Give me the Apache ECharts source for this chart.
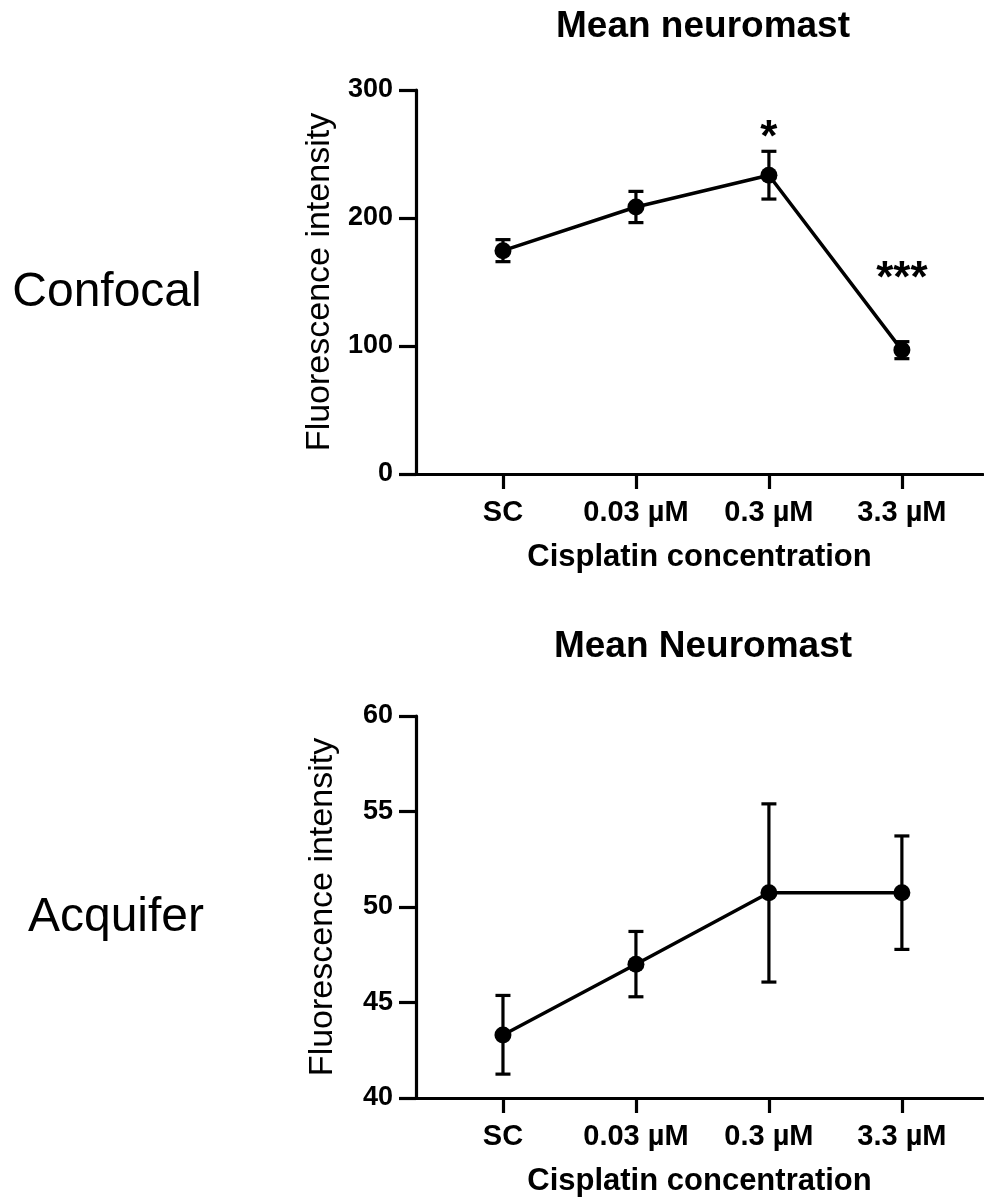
<!DOCTYPE html>
<html><head><meta charset="utf-8">
<script src="https://cdn.jsdelivr.net/npm/echarts@6/dist/echarts.min.js"></script>
<style>html,body{margin:0;padding:0;background:#fff}#c{width:984px;height:1198px}</style>
</head><body><div id="c"></div>
<script>
// ---- data ----
const categories = ['SC', '0.03 µM', '0.3 µM', '3.3 µM'];
const confocalMean = [174.5, 208.6, 233.4, 96.8];
const confocalLow  = [165.9, 196.4, 214.8, 90.1];
const confocalHigh = [183.1, 220.8, 252.1, 103.4];
const confocalSig  = ['', '', '*', '***'];
const confocalSigY = [null, null, 262, 152];
const acquiferMean = [43.3, 47.0, 50.75, 50.75];
const acquiferLow  = [41.25, 45.3, 46.07, 47.78];
const acquiferHigh = [45.37, 48.72, 55.4, 53.72];
const confocalYTicks = [0, 100, 200, 300];
const acquiferYTicks = [40, 45, 50, 55, 60];
const titles = ['Mean neuromast', 'Mean Neuromast'];
const rowLabels = ['Confocal', 'Acquifer'];
const xName = 'Cisplatin concentration';
const yName = 'Fluorescence intensity';

const F = '"Liberation Sans", Arial, Helvetica, sans-serif';
const chart = echarts.init(document.getElementById('c'), null, {renderer: 'canvas'});
const catIdx = categories.map((c, i) => i);

function errorBar(params, api) {
  const x = api.value(0);
  const lo = api.coord([x, api.value(1)]);
  const hi = api.coord([x, api.value(2)]);
  const hw = 7.5;
  const style = {stroke: '#000', lineWidth: 3.2, fill: null};
  return {type: 'group', children: [
    {type: 'line', shape: {x1: hi[0], y1: hi[1], x2: lo[0], y2: lo[1]}, style},
    {type: 'line', shape: {x1: hi[0] - hw, y1: hi[1], x2: hi[0] + hw, y2: hi[1]}, style},
    {type: 'line', shape: {x1: lo[0] - hw, y1: lo[1], x2: lo[0] + hw, y2: lo[1]}, style}
  ]};
}
function sigText(params, api) {
  const p = api.coord([api.value(0), api.value(1)]);
  return {type: 'text', x: p[0], y: p[1], style: {
    text: confocalSig[api.value(0)], fill: '#000', font: 'bold 44px ' + F,
    textAlign: 'center', textVerticalAlign: 'middle'}};
}

function xAxisCfg(g) {
  return {
    type: 'value', gridIndex: g, min: -0.654, max: 3.61,
    axisLine: {show: true, onZero: false, lineStyle: {color: '#000', width: 3.2}},
    axisTick: {show: true, customValues: catIdx, length: 15, lineStyle: {color: '#000', width: 3.2}},
    axisLabel: {customValues: catIdx, formatter: v => categories[Math.round(v)],
      color: '#000', fontSize: 29, fontWeight: 'bold', fontFamily: F, margin: 24},
    splitLine: {show: false},
    name: xName, nameLocation: 'middle', nameGap: 68,
    nameTextStyle: {color: '#000', fontSize: 31, fontWeight: 'bold', fontFamily: F}
  };
}
function yAxisCfg(g, ticks) {
  return {
    type: 'value', gridIndex: g, min: ticks[0], max: ticks[ticks.length - 1],
    interval: ticks[1] - ticks[0],
    axisLine: {show: true, onZero: false, lineStyle: {color: '#000', width: 3.2}},
    axisTick: {show: true, length: 17, lineStyle: {color: '#000', width: 3.2}},
    axisLabel: {color: '#000', fontSize: 27, fontWeight: 'bold', fontFamily: F, margin: 23},
    splitLine: {show: false},
    name: yName, nameLocation: 'middle', nameGap: 76,
    nameTextStyle: {color: '#000', fontSize: 34, fontFamily: F}
  };
}

const option = {
  backgroundColor: '#fff',
  animation: false,
  grid: [
    {left: 416, right: 1, top: 90, height: 384},
    {left: 416, right: 1, top: 716, height: 382}
  ],
  xAxis: [xAxisCfg(0), xAxisCfg(1)],
  yAxis: [yAxisCfg(0, confocalYTicks), yAxisCfg(1, acquiferYTicks)],
  graphic: [
    {type: 'text', x: 703, y: 27, style: {text: titles[0], font: 'bold 37px ' + F, fill: '#000', textAlign: 'center', textVerticalAlign: 'middle'}},
    {type: 'text', x: 703, y: 647, style: {text: titles[1], font: 'bold 37px ' + F, fill: '#000', textAlign: 'center', textVerticalAlign: 'middle'}},
    {type: 'text', x: 107, y: 293, style: {text: rowLabels[0], font: '48px ' + F, fill: '#000', textAlign: 'center', textVerticalAlign: 'middle'}},
    {type: 'text', x: 116, y: 918, style: {text: rowLabels[1], font: '48px ' + F, fill: '#000', textAlign: 'center', textVerticalAlign: 'middle'}}
  ],
  series: [
    {type: 'custom', xAxisIndex: 0, yAxisIndex: 0, renderItem: errorBar, z: 3,
      encode: {x: 0, y: [1, 2]},
      data: catIdx.map(i => [i, confocalLow[i], confocalHigh[i]])},
    {type: 'line', xAxisIndex: 0, yAxisIndex: 0, z: 4,
      data: catIdx.map(i => [i, confocalMean[i]]),
      symbol: 'circle', symbolSize: 17, showSymbol: true,
      lineStyle: {color: '#000', width: 3.5}, itemStyle: {color: '#000'}},
    {type: 'custom', xAxisIndex: 0, yAxisIndex: 0, renderItem: sigText, z: 5, silent: true,
      encode: {x: 0, y: 1},
      data: catIdx.filter(i => confocalSig[i]).map(i => [i, confocalSigY[i]])},
    {type: 'custom', xAxisIndex: 1, yAxisIndex: 1, renderItem: errorBar, z: 3,
      encode: {x: 0, y: [1, 2]},
      data: catIdx.map(i => [i, acquiferLow[i], acquiferHigh[i]])},
    {type: 'line', xAxisIndex: 1, yAxisIndex: 1, z: 4,
      data: catIdx.map(i => [i, acquiferMean[i]]),
      symbol: 'circle', symbolSize: 17, showSymbol: true,
      lineStyle: {color: '#000', width: 3.5}, itemStyle: {color: '#000'}}
  ]
};
chart.setOption(option);
</script></body></html>
